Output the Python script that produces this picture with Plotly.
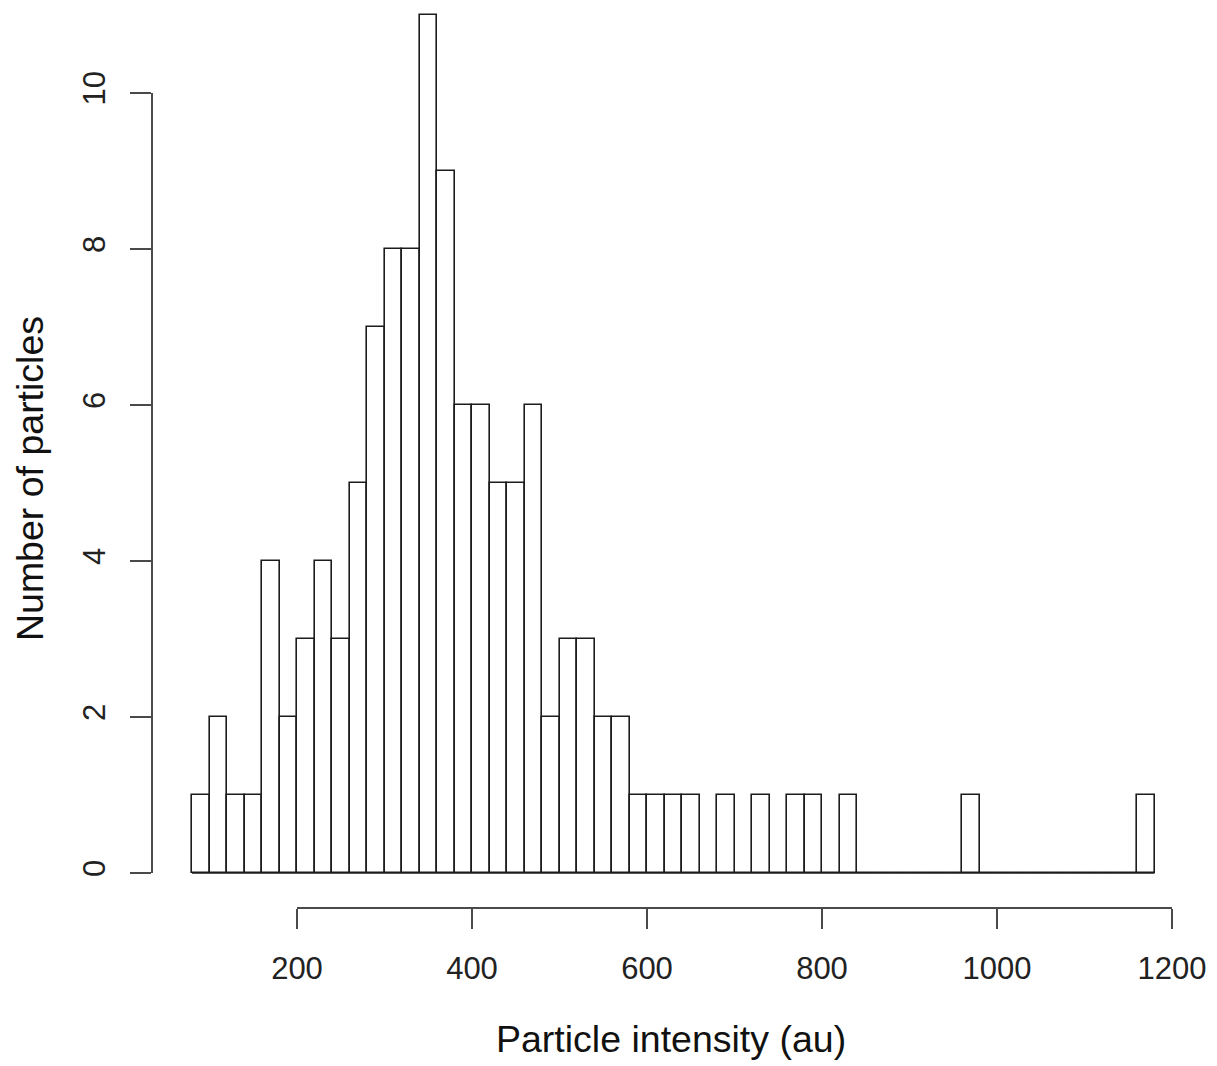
import plotly.graph_objects as go

# Histogram data (bin width 20, starting at 80)
bin_start = 80
bin_width = 20
counts = [1, 2, 1, 1, 4, 2, 3, 4, 3, 5,
          7, 8, 8, 11, 9, 6, 6, 5, 5, 6,
          2, 3, 3, 2, 2, 1, 1, 1, 1, 0,
          1, 0, 1, 0, 1, 1, 0, 1, 0, 0,
          0, 0, 0, 0, 1, 0, 0, 0, 0, 0,
          0, 0, 0, 0, 1]
x_ticks = [200, 400, 600, 800, 1000, 1200]
y_ticks = [0, 2, 4, 6, 8, 10]

centers = [bin_start + bin_width * (i + 0.5) for i in range(len(counts))]
bin_end = bin_start + bin_width * len(counts)

LINE = "#1c1c1c"
AXIS = "#4a4a4a"
FONT = "Liberation Sans, Arial, sans-serif"

fig = go.Figure()
fig.add_trace(go.Bar(
    x=centers, y=counts, width=[bin_width] * len(counts),
    marker=dict(color="white", line=dict(color=LINE, width=1.6)),
    showlegend=False, hoverinfo="x+y",
))
# baseline for empty bins (R draws zero-height rectangles as a line)
fig.add_trace(go.Scatter(
    x=[bin_start, bin_end], y=[0, 0], mode="lines",
    line=dict(color=LINE, width=1.6), showlegend=False, hoverinfo="skip",
))

fig.update_layout(
    width=1209, height=1058,
    margin=dict(l=144, r=27, t=2, b=158),
    plot_bgcolor="white", paper_bgcolor="white",
    font=dict(family=FONT, color="#1a1a1a"),
    bargap=0,
)
fig.update_xaxes(
    range=[34.29, 1220.57], tickvals=x_ticks, ticktext=[str(v) for v in x_ticks],
    ticks="outside", ticklen=20, tickwidth=2, tickcolor=AXIS,
    showline=False, showgrid=False, zeroline=False,
    tickfont=dict(size=31, color="#222222"), ticklabelstandoff=13,
)
fig.update_yaxes(
    range=[-0.4487, 11.064], tickvals=y_ticks, ticktext=[str(v) for v in y_ticks],
    ticks="outside", ticklen=21, tickwidth=2, tickcolor=AXIS,
    showline=False, showgrid=False, zeroline=False, tickangle=-90,
    tickfont=dict(size=31, color="#222222"), ticklabelstandoff=13,
)
# R-style axis lines spanning first to last tick
fig.add_shape(type="line", xref="x", yref="paper", x0=x_ticks[0], x1=x_ticks[-1], y0=0, y1=0,
              line=dict(color=AXIS, width=2))
fig.add_shape(type="line", xref="paper", yref="y", x0=0, x1=0, y0=y_ticks[0], y1=y_ticks[-1],
              line=dict(color=AXIS, width=2))

fig.add_annotation(text="Particle intensity (au)", xref="paper", yref="paper",
                   x=0.5, y=-0.146, showarrow=False, yanchor="middle",
                   font=dict(size=37.5, color="#111111"))
fig.add_annotation(text="Number of particles", xref="paper", yref="paper",
                   x=-0.1175, y=0.4777, showarrow=False, textangle=-90, xanchor="center",
                   font=dict(size=37.5, color="#111111"))

fig.write_html("out.html")
